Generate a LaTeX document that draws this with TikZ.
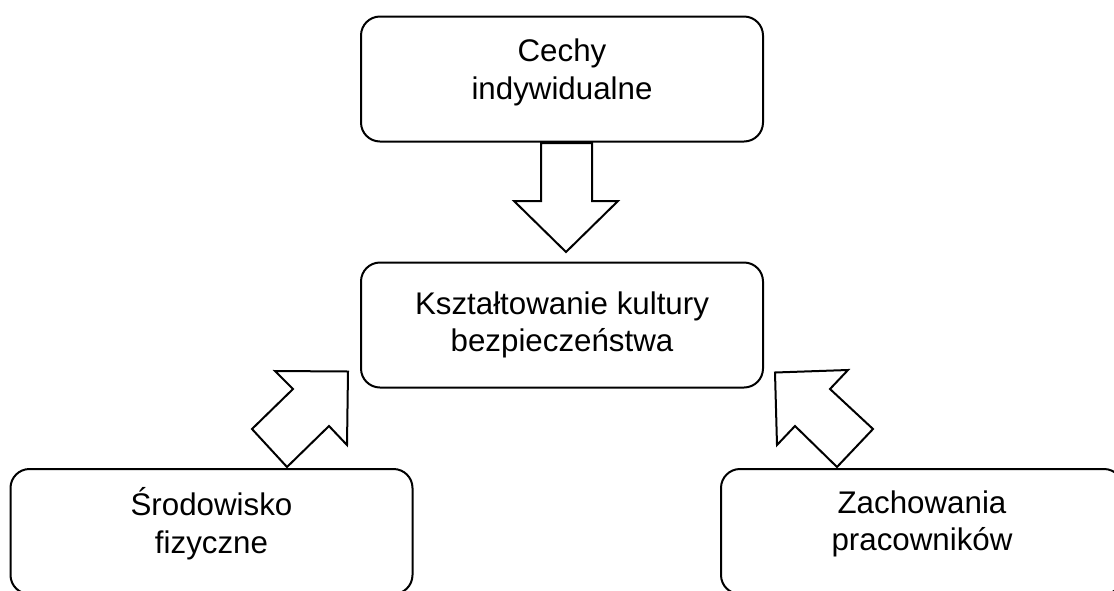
\documentclass[tikz,border=0pt]{standalone}
\usepackage{fontspec}
\setmainfont{Liberation Sans}
\begin{document}
\begin{tikzpicture}[x=1pt,y=-1pt,
  box/.style={draw=black,line width=2pt,rounded corners=19pt,fill=white,
    minimum width=402pt,minimum height=125pt,align=center,
    font=\fontsize{31.3}{37.5}\selectfont,inner sep=0pt},
  raised/.style={box,text depth=#1},
  blockarrow/.style={draw=black,line width=2pt,fill=white,line join=miter}]
\useasboundingbox (0,0) rectangle (1114,590);
\clip (0,0) rectangle (1114,590);
\node[raised=20pt] (top) at (562,79) {Cechy\\indywidualne};
\node[box] (mid) at (562,325) {Kształtowanie kultury\\bezpieczeństwa};
\node[raised=22pt] (left) at (211.5,531.5) {Środowisko\\fizyczne};
\node[raised=22pt] (right) at (922,531.5) {Zachowania\\pracowników};
% block arrows
\draw[blockarrow] (541,143) -- (541,201) -- (514,201) -- (566,252) -- (618,201) -- (592,201) -- (592,143) -- cycle;
\draw[blockarrow] (275,371) -- (348,371.5) -- (347,445) -- (329,426) -- (287,467) -- (252,429) -- (293,389) -- cycle;
\draw[blockarrow] (775,372.5) -- (848,370) -- (830,389) -- (873,429) -- (837,467) -- (795,426) -- (777,445) -- cycle;
\end{tikzpicture}
\end{document}
